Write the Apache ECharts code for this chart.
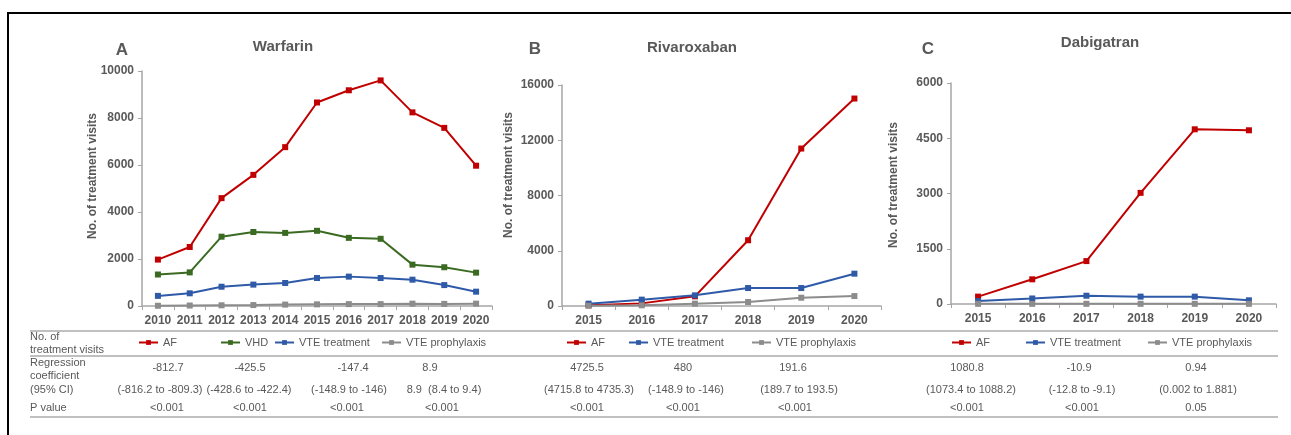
<!DOCTYPE html>
<html>
<head>
<meta charset="utf-8">
<script src="https://cdn.jsdelivr.net/npm/echarts@6/dist/echarts.min.js"></script>
<style>
  html, body { margin: 0; padding: 0; background: #fff; }
  #chart { width: 1291px; height: 435px; }
</style>
</head>
<body>
<div id="chart"></div>
<script>
// categories
const warfarinYears = ['2010', '2011', '2012', '2013', '2014', '2015', '2016', '2017', '2018', '2019', '2020']
const doacYears = ['2015', '2016', '2017', '2018', '2019', '2020']

// A: Warfarin
const warfarinAF = [1975, 2510, 4590, 5580, 6760, 8660, 9180, 9600, 8240, 7580, 5970]
const warfarinVHD = [1340, 1430, 2950, 3150, 3110, 3200, 2900, 2860, 1760, 1650, 1420]
const warfarinVteTreat = [430, 540, 820, 910, 980, 1190, 1250, 1190, 1120, 890, 610]
const warfarinVteProph = [10, 20, 30, 40, 60, 70, 80, 80, 100, 90, 100]

// B: Rivaroxaban
const rivaAF = [50, 190, 700, 4760, 11400, 15020]
const rivaVteTreat = [170, 460, 770, 1300, 1300, 2340]
const rivaVteProph = [20, 50, 170, 290, 600, 720]

// C: Dabigatran
const dabiAF = [200, 670, 1165, 3017, 4743, 4716]
const dabiVteTreat = [80, 150, 225, 200, 200, 100]
const dabiVteProph = [5, 5, 5, 5, 5, 5]

// y axis ranges (max, interval)
const warfarinAxis = [10000, 2000]
const rivaAxis = [16000, 4000]
const dabiAxis = [6000, 1500]

// table texts
const rowLabels = ['No. of', 'treatment visits', 'Regression', 'coefficient', '(95% CI)', 'P value']
const warfarinCoef = ['-812.7', '-425.5', '-147.4', '8.9']
const warfarinCI = ['(-816.2 to -809.3)', '(-428.6 to -422.4)', '(-148.9 to -146)', '8.9  (8.4 to 9.4)']
const warfarinP = ['<0.001', '<0.001', '<0.001', '<0.001']
const rivaCoef = ['4725.5', '480', '191.6']
const rivaCI = ['(4715.8 to 4735.3)', '(-148.9 to -146)', '(189.7 to 193.5)']
const rivaP = ['<0.001', '<0.001', '<0.001']
const dabiCoef = ['1080.8', '-10.9', '0.94']
const dabiCI = ['(1073.4 to 1088.2)', '(-12.8 to -9.1)', '(0.002 to 1.881)']
const dabiP = ['<0.001', '<0.001', '0.05']

const FONT = "'Liberation Sans', Arial, sans-serif"
const TXT = '#595959'
const AXIS = '#a6a6a6'
const colors = { AF: '#c00000', VHD: '#3b6b22', 'VTE treatment': '#2f5aa8', 'VTE prophylaxis': '#8c8c8c' }

const grids = [
  { left: 142, top: 71, width: 350, height: 235 },
  { left: 562, top: 85, width: 319, height: 221 },
  { left: 951, top: 83, width: 325, height: 221 }
]

function xAxis(i, data) {
  return {
    type: 'category', gridIndex: i, data: data, boundaryGap: true,
    axisLine: { lineStyle: { color: AXIS, width: 1.5 } },
    axisTick: { show: true, length: 4, lineStyle: { color: AXIS } },
    axisLabel: { interval: 0, color: TXT, fontFamily: FONT, fontSize: 12, fontWeight: 'bold', margin: 9 }
  }
}
function yAxis(i, range) {
  return {
    type: 'value', gridIndex: i, min: 0, max: range[0], interval: range[1],
    axisLine: { show: true, lineStyle: { color: AXIS, width: 1.5 } },
    axisTick: { show: true, length: 4, lineStyle: { color: AXIS } },
    splitLine: { show: false },
    axisLabel: {
      color: TXT, fontFamily: FONT, fontSize: 12, fontWeight: 'bold', margin: 8,
      formatter: function(v) { return String(v) }
    }
  }
}
function line(name, i, data) {
  return {
    name: name, type: 'line', xAxisIndex: i, yAxisIndex: i, data: data,
    symbol: 'rect', symbolSize: 6, animation: false,
    lineStyle: { color: colors[name], width: 2 },
    itemStyle: { color: colors[name] }
  }
}
function text(x, y, s, opts) {
  const o = opts || {}
  return {
    type: 'text', x: x, y: y, rotation: o.rotation || 0, silent: true,
    style: {
      text: s, fill: o.color || TXT, fontFamily: FONT,
      fontSize: o.size || 11, fontWeight: o.weight || 'normal',
      align: o.align || 'center', verticalAlign: 'middle',
      textAlign: o.align || 'center', textVerticalAlign: 'middle'
    }
  }
}
function hline(x1, x2, y, color, w) {
  return { type: 'line', silent: true, shape: { x1: x1, y1: y, x2: x2, y2: y }, style: { stroke: color, lineWidth: w } }
}

// legend item positions (icon left edge)
const legendItems = [
  ['AF', 138], ['VHD', 220], ['VTE treatment', 274], ['VTE prophylaxis', 381],
  ['AF', 566], ['VTE treatment', 628], ['VTE prophylaxis', 751],
  ['AF', 951], ['VTE treatment', 1025], ['VTE prophylaxis', 1147]
]

const graphic = [
  // frame
  hline(7, 1291, 13, '#000', 2),
  { type: 'line', silent: true, shape: { x1: 8, y1: 12, x2: 8, y2: 435 }, style: { stroke: '#000', lineWidth: 2 } },
  // table rules
  hline(30, 1278, 331, '#c0c0c0', 2),
  hline(30, 1278, 356, '#c0c0c0', 2),
  hline(30, 1278, 417, '#c0c0c0', 2),
  // panel titles
  text(122, 50, 'A', { size: 17, weight: 'bold' }),
  text(283, 47, 'Warfarin', { size: 15, weight: 'bold' }),
  text(535, 49, 'B', { size: 17, weight: 'bold' }),
  text(692, 48, 'Rivaroxaban', { size: 15, weight: 'bold' }),
  text(928, 49, 'C', { size: 17, weight: 'bold' }),
  text(1100, 43, 'Dabigatran', { size: 15, weight: 'bold' }),
  // y axis names
  text(93, 176, 'No. of treatment visits', { size: 12, weight: 'bold', rotation: Math.PI / 2 }),
  text(509, 175, 'No. of treatment visits', { size: 12, weight: 'bold', rotation: Math.PI / 2 }),
  text(894, 185, 'No. of treatment visits', { size: 12, weight: 'bold', rotation: Math.PI / 2 })
]

// row labels
const rowLabelY = [337, 350, 363, 376, 390, 408]
rowLabels.forEach(function(s, k) { graphic.push(text(30, rowLabelY[k], s, { align: 'left' })) })

function tableRow(values, xs, y) {
  values.forEach(function(s, k) { graphic.push(text(xs[k], y, s)) })
}
tableRow(warfarinCoef, [168, 250, 353, 430], 368)
tableRow(warfarinCI, [160, 249, 349, 444], 390)
tableRow(warfarinP, [167, 250, 347, 442], 408)
tableRow(rivaCoef, [587, 683, 793], 368)
tableRow(rivaCI, [589, 686, 799], 390)
tableRow(rivaP, [587, 683, 795], 408)
tableRow(dabiCoef, [967, 1079, 1196], 368)
tableRow(dabiCI, [971, 1082, 1198], 390)
tableRow(dabiP, [967, 1082, 1196], 408)

const legends = legendItems.map(function(it) {
  return {
    left: it[1], top: 337, padding: 0, itemWidth: 19, itemHeight: 6, itemGap: 0,
    selectedMode: false, data: [it[0]],
    textStyle: { color: TXT, fontFamily: FONT, fontSize: 11 }
  }
})

const chart = echarts.init(document.getElementById('chart'))
chart.setOption({
  animation: false,
  legend: legends,
  grid: grids,
  xAxis: [xAxis(0, warfarinYears), xAxis(1, doacYears), xAxis(2, doacYears)],
  yAxis: [yAxis(0, warfarinAxis), yAxis(1, rivaAxis), yAxis(2, dabiAxis)],
  series: [
    line('AF', 0, warfarinAF),
    line('VHD', 0, warfarinVHD),
    line('VTE treatment', 0, warfarinVteTreat),
    line('VTE prophylaxis', 0, warfarinVteProph),
    line('AF', 1, rivaAF),
    line('VTE treatment', 1, rivaVteTreat),
    line('VTE prophylaxis', 1, rivaVteProph),
    line('AF', 2, dabiAF),
    line('VTE treatment', 2, dabiVteTreat),
    line('VTE prophylaxis', 2, dabiVteProph)
  ],
  graphic: graphic
})
</script>
</body>
</html>
